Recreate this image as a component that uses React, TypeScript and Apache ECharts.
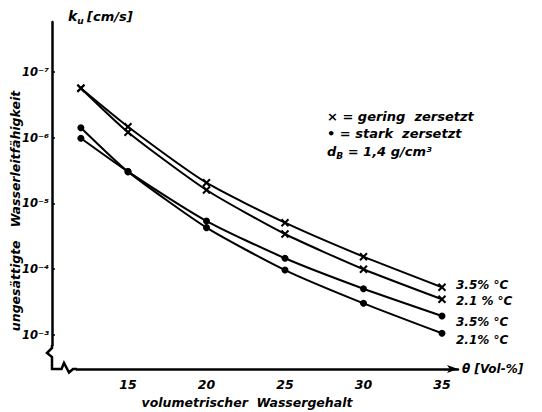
import React, { useEffect, useRef } from 'react';
import * as echarts from 'echarts';

// volumetric water content (Vol-%)
const theta = [12, 15, 20, 25, 30, 35];
// unsaturated hydraulic conductivity k_u [cm/s]
const geringA = [1.77e-7, 6.8e-7, 4.83e-6, 1.96e-5, 6.44e-5, 1.88e-4]; // x  3.5 %
const geringB = [1.77e-7, 8.26e-7, 6.24e-6, 2.91e-5, 1.0e-4, 2.86e-4]; // x  2.1 %
const starkA = [1.02e-6, 3.28e-6, 1.85e-5, 6.81e-5, 1.98e-4, 5.14e-4]; // •  3.5 %
const starkB = [7.03e-7, 3.28e-6, 2.33e-5, 1.03e-4, 3.3e-4, 9.42e-4]; // •  2.1 %
const endLabels = ['3.5% °C', '2.1 % °C', '3.5% °C', '2.1% °C'];
const xTicks = [15, 20, 25, 30, 35];
const legendLines = ['× = gering  zersetzt', '• = stark  zersetzt'];

const SUP: Record<string, string> = {
  '-': '⁻', '0': '⁰', '1': '¹', '2': '²', '3': '³', '4': '⁴', '5': '⁵', '6': '⁶', '7': '⁷', '8': '⁸', '9': '⁹',
};
const toSup = (s: string) => s.split('').map((c) => SUP[c] || c).join('');

export default function App() {
  const ref = useRef<HTMLDivElement>(null);
  useEffect(() => {
    const chart = echarts.init(ref.current!, null, { renderer: 'svg' });
    const FF = 'DejaVu Sans';
    const txt = { fontFamily: FF, fontStyle: 'italic' as const, fontWeight: 'bold' as const, fill: '#000' };
    const crossPath = 'path://M0,0L10,10M10,0L0,10';
    const mk = (data: number[], cross: boolean, label: string, dy: number) => ({
      type: 'line',
      data: theta.map((t, i) => [t, data[i]]),
      smooth: 0.2,
      symbol: cross ? crossPath : 'circle',
      symbolSize: 7,
      showSymbol: true,
      lineStyle: { color: '#000', width: 2 },
      itemStyle: cross
        ? { color: 'none', borderColor: '#000', borderWidth: 2 }
        : { color: '#000', borderColor: '#000', borderWidth: 0 },
      endLabel: {
        show: true,
        formatter: label,
        distance: 14,
        offset: [0, dy],
        fontFamily: FF,
        fontStyle: 'italic',
        fontWeight: 'bold',
        fontSize: 12,
        color: '#000',
      },
      z: 3,
    });
    chart.setOption({
      animation: false,
      backgroundColor: '#fff',
      grid: { left: 52, right: 84, top: 22, bottom: 43, containLabel: false },
      xAxis: {
        type: 'value',
        min: 10.16,
        max: 36.02,
        name: 'θ [Vol-%]',
        nameLocation: 'end',
        nameGap: 4,
        nameTextStyle: { fontFamily: FF, fontStyle: 'italic', fontWeight: 'bold', fontSize: 12, color: '#000' },
        axisLine: {
          show: true,
          lineStyle: { color: '#000', width: 2.5 },
          symbol: ['none', 'arrow'],
          symbolSize: [6, 11],
        },
        axisTick: { show: false },
        splitLine: { show: false },
        axisLabel: {
          customValues: xTicks,
          margin: 9,
          fontFamily: FF,
          fontStyle: 'italic',
          fontWeight: 'bold',
          fontSize: 12.5,
          color: '#000',
        },
      },
      yAxis: {
        type: 'log',
        logBase: 10,
        inverse: true,
        min: 1.738e-8,
        max: 3.29e-3,
        axisLine: {
          show: true,
          onZero: false,
          lineStyle: { color: '#000', width: 2.5 },
          symbol: ['arrow', 'none'],
          symbolSize: [6, 11],
        },
        axisTick: { show: true, inside: true, length: 3, lineStyle: { color: '#000', width: 1.5 } },
        splitLine: { show: false },
        minorTick: { show: false },
        axisLabel: {
          showMinLabel: false,
          showMaxLabel: false,
          margin: 3,
          fontFamily: FF,
          fontStyle: 'italic',
          fontWeight: 'bold',
          fontSize: 11.5,
          color: '#000',
          formatter: (v: number) => {
            const e = Math.log10(v);
            const r = Math.round(e);
            if (Math.abs(e - r) > 0.01) return '';
            return '10' + toSup(String(r));
          },
        },
      },
      series: [
        mk(geringA, true, endLabels[0], -2),
        mk(geringB, true, endLabels[1], 2),
        mk(starkA, false, endLabels[2], 6),
        mk(starkB, false, endLabels[3], 7),
      ],
      graphic: [
        {
          type: 'text',
          x: 68,
          y: 16,
          z: 100,
          style: {
            text: '{k|k}{u|u} {t|[cm/s]}',
            verticalAlign: 'middle',
            rich: {
              k: { fontFamily: FF, fontStyle: 'italic', fontWeight: 'bold', fontSize: 14, lineHeight: 18, verticalAlign: 'middle' },
              u: { fontFamily: FF, fontStyle: 'italic', fontWeight: 'bold', fontSize: 9, lineHeight: 18, verticalAlign: 'bottom' },
              t: { fontFamily: FF, fontStyle: 'italic', fontWeight: 'bold', fontSize: 13, lineHeight: 18, verticalAlign: 'middle' },
            },
          },
        },
        {
          type: 'text',
          x: 15,
          y: 211,
          rotation: Math.PI / 2,
          z: 100,
          style: {
            ...txt,
            text: 'ungesättigte   Wasserleitfähigkeit',
            fontSize: 12.5,
            align: 'center',
            verticalAlign: 'middle',
          },
        },
        {
          type: 'text',
          x: 247,
          y: 402,
          z: 100,
          style: {
            ...txt,
            text: 'volumetrischer  Wassergehalt',
            fontSize: 12.5,
            align: 'center',
            verticalAlign: 'middle',
          },
        },
        ...legendLines.map((t, i) => ({
          type: 'text',
          x: 327,
          y: 116 + i * 17,
          z: 100,
          style: { ...txt, text: t, fontSize: 13, align: 'left', verticalAlign: 'middle' },
        })),
        {
          type: 'text',
          x: 327,
          y: 151,
          z: 100,
          style: {
            text: '{d|d}{b|B}{n| = 1,4 g/cm³}',
            verticalAlign: 'middle',
            rich: {
              d: { fontFamily: FF, fontStyle: 'italic', fontWeight: 'bold', fontSize: 13, lineHeight: 18, verticalAlign: 'middle' },
              b: { fontFamily: FF, fontStyle: 'italic', fontWeight: 'bold', fontSize: 9, lineHeight: 18, verticalAlign: 'bottom' },
              n: { fontFamily: FF, fontStyle: 'italic', fontWeight: 'bold', fontSize: 13, lineHeight: 18, verticalAlign: 'middle' },
            },
          },
        },
        {
          type: 'rect',
          z: 100,
          shape: { x: 43, y: 346, width: 33, height: 30 },
          style: { fill: '#fff' },
        },
        {
          type: 'polyline',
          z: 101,
          shape: {
            points: [
              [52, 345],
              [52, 348],
              [47, 353],
              [52, 357],
              [52, 369],
              [61.5, 369],
              [64, 363],
              [69, 372.5],
              [73, 369],
              [77, 369],
            ],
          },
          style: { stroke: '#000', lineWidth: 2.5, fill: 'none' },
        },
      ],
    });
    return () => chart.dispose();
  }, []);
  return (
    <div
      ref={ref}
      style={{ position: 'absolute', left: 0, top: 0, width: 542, height: 412, background: '#fff' }}
    />
  );
}
